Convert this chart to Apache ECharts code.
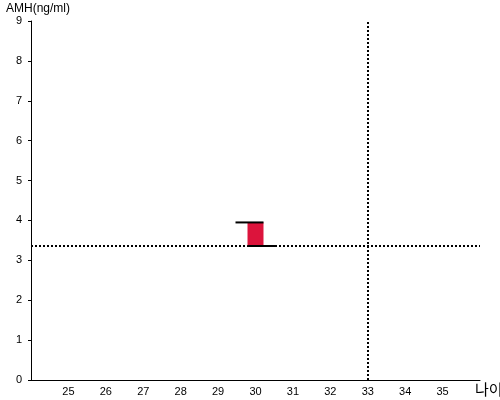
<!DOCTYPE html>
<html><head><meta charset="utf-8">
<script src="https://cdn.jsdelivr.net/npm/echarts@6/dist/echarts.min.js"></script>
<style>html,body{margin:0;padding:0;background:#fff}#c{width:500px;height:400px}</style>
</head><body><div id="c"></div>
<script>
const xTicks = [25,26,27,28,29,30,31,32,33,34,35];
const yTicks = [0,1,2,3,4,5,6,7,8,9];
const ages = [30];
const lowValues = [3.36];
const highValues = [3.95];
const refAMH = 3.36;
const refAge = 33;

const chart = echarts.init(document.getElementById('c'), null, {renderer:'canvas'});
const font = 'Liberation Sans, Arial, sans-serif';
chart.setOption({
  animation:false,
  grid:{left:31, right:20, top:21, bottom:20, containLabel:false, outerBoundsMode:'none'},
  xAxis:{type:'value', min:24, max:36, interval:1,
    name:'나이', nameLocation:'end', nameGap:-5,
    nameTextStyle:{fontFamily:'Noto Sans CJK KR', fontSize:15, color:'#000', align:'left', verticalAlign:'top', padding:[2,0,0,0]},
    axisLine:{lineStyle:{color:'#000', width:1}},
    axisTick:{show:false},
    splitLine:{show:false},
    axisLabel:{color:'#000', fontFamily:font, fontSize:11, margin:6,
      formatter:v=> xTicks.includes(v)? String(v):''}
  },
  yAxis:{type:'value', min:0, max:9, interval:1,
    name:'AMH(ng/ml)', nameLocation:'end', nameGap:6,
    nameTextStyle:{fontFamily:font, fontSize:12, color:'#000', align:'left', padding:[0,0,0,-25]},
    axisLine:{lineStyle:{color:'#000', width:1}},
    axisTick:{show:true, length:3, lineStyle:{color:'#000'}},
    splitLine:{show:false},
    axisLabel:{color:'#000', fontFamily:font, fontSize:11, margin:9,
      formatter:v=> yTicks.includes(v)? String(v):''}
  },
  series:[
    {type:'custom',
     data: ages.map((a,i)=>[a, lowValues[i], highValues[i]]),
     renderItem:(params, api)=>{
       const x = api.value(0);
       const lo = api.coord([x, api.value(1)]);
       const hi = api.coord([x, api.value(2)]);
       const half = 8;
       return {type:'group', children:[
         {type:'rect', shape:{x:lo[0]-half, y:hi[1], width:half*2, height:lo[1]-hi[1]},
          style:{fill:'#dc143c'}},
         {type:'line', shape:{x1:lo[0]-20, y1:hi[1], x2:lo[0]+half, y2:hi[1]},
          style:{stroke:'#000', lineWidth:2}},
         {type:'line', shape:{x1:lo[0]-half, y1:lo[1], x2:lo[0]+20, y2:lo[1]},
          style:{stroke:'#000', lineWidth:2}}
       ]};
     },
     z:5
    },
    {type:'line', data:[], 
     markLine:{silent:true, symbol:'none', label:{show:false},
       lineStyle:{color:'#000', type:[2,2], width:2},
       data:[{yAxis:refAMH},{xAxis:refAge}]}
    }
  ]
});
</script></body></html>
